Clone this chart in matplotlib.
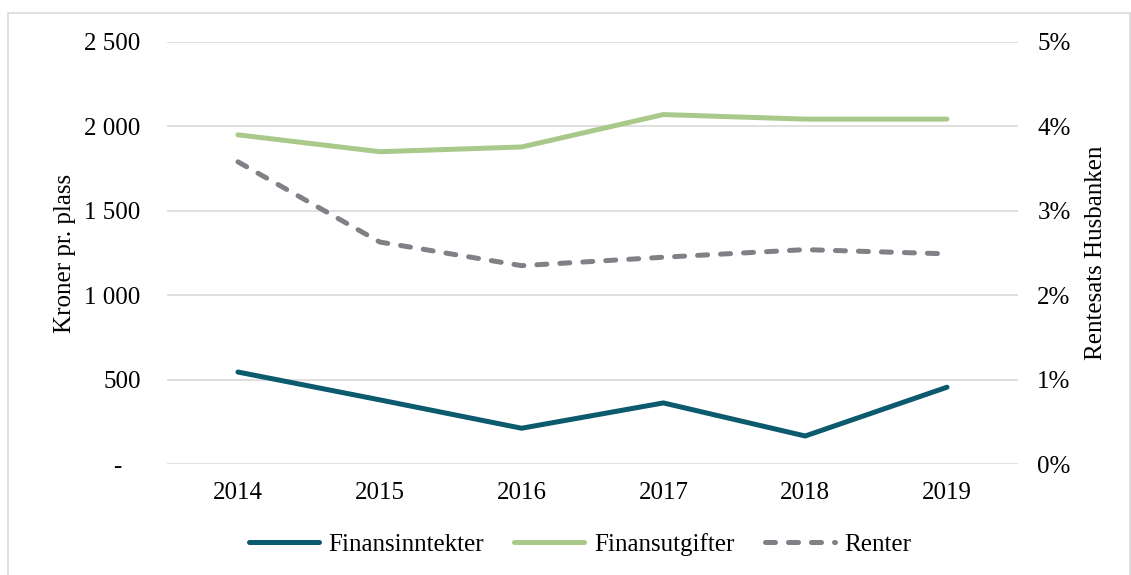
import matplotlib.pyplot as plt
from matplotlib.patches import Rectangle

years = ['2014', '2015', '2016', '2017', '2018', '2019']
finansinntekter = [545, 380, 212, 362, 166, 455]
finansutgifter = [1950, 1850, 1878, 2070, 2043, 2043]
renter = [3.58, 2.63, 2.35, 2.45, 2.54, 2.49]

left_ticks = [0, 500, 1000, 1500, 2000, 2500]
left_labels = ['-   ', '500', '1 000', '1 500', '2 000', '2 500']
right_ticks = [0, 1, 2, 3, 4, 5]
right_labels = ['0%', '1%', '2%', '3%', '4%', '5%']

plt.rcParams['font.family'] = 'Liberation Serif'
plt.rcParams['font.size'] = 18

fig = plt.figure(figsize=(11.31, 5.75), dpi=100)
ax = fig.add_axes([0.1477, 0.193, 0.7523, 0.734])
ax2 = ax.twinx()

x = list(range(len(years)))
l1, = ax.plot(x, finansinntekter, color='#0B5A6E', lw=3.6, solid_capstyle='round', label='Finansinntekter')
l2, = ax.plot(x, finansutgifter, color='#A9C98B', lw=3.6, solid_capstyle='round', label='Finansutgifter')
l3, = ax2.plot(x, renter, color='#808086', lw=3.6, dashes=(2.0, 2.6), dash_capstyle='round',
               label='Renter')

ax.set_xlim(-0.5, 5.5)
ax.set_ylim(0, 2500)
ax2.set_ylim(0, 5)
ax.set_xticks(x)
ax.set_xticklabels(years)
ax.set_yticks(left_ticks)
ax.set_yticklabels(left_labels)
ax2.set_yticks(right_ticks)
ax2.set_yticklabels(right_labels)

ax.grid(axis='y', color='#D9D9D9', lw=1.2)
ax.set_axisbelow(True)
for a in (ax, ax2):
    for s in a.spines.values():
        s.set_visible(False)
    a.tick_params(length=0)
ax.tick_params(axis='y', pad=19)
ax.tick_params(axis='x', pad=13)
ax2.tick_params(axis='y', pad=14)

ax.set_ylabel('Kroner pr. plass', labelpad=6)
ax2.set_ylabel('Rentesats Husbanken', labelpad=10)

fig.legend(handles=[l1, l2, l3], loc='center', bbox_to_anchor=(0.513, 0.053), ncol=3,
           frameon=False, handlelength=2.8, columnspacing=1.2, handletextpad=0.4)

fig.patches.append(Rectangle((8 / 1131, -0.01), 1122 / 1131, 1 - 13 / 575 + 0.01,
                             transform=fig.transFigure, fill=False, edgecolor='#D9D9D9', lw=1.2))

fig.savefig('out.png', dpi=100)
